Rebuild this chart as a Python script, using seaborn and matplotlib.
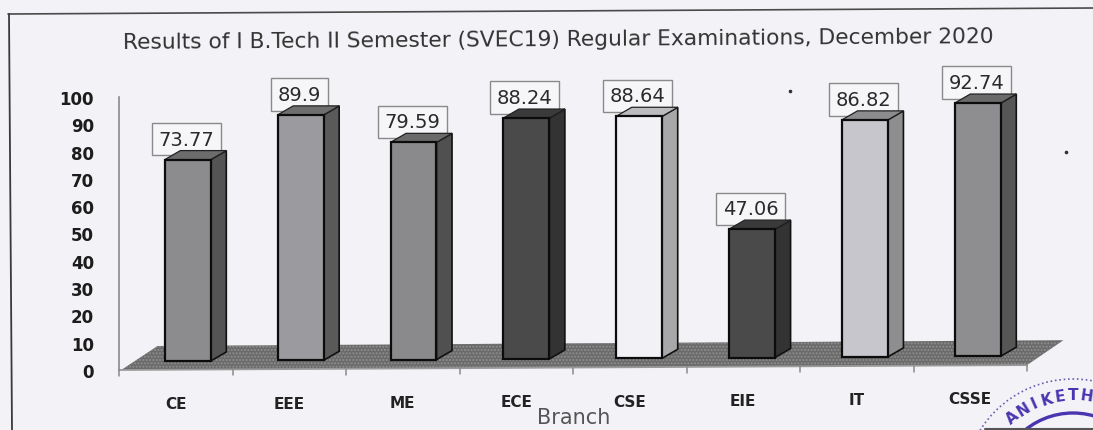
import numpy as np
import pandas as pd
import seaborn as sb
import matplotlib
matplotlib.use('Agg')
import matplotlib.pyplot as plt
from matplotlib.lines import Line2D
from matplotlib.patches import Arc
from matplotlib.transforms import ScaledTranslation

branches = ['CE', 'EEE', 'ME', 'ECE', 'CSE', 'EIE', 'IT', 'CSSE']
results = [73.77, 89.9, 79.59, 88.24, 88.64, 47.06, 86.82, 92.74]
value_labels = ['73.77', '89.9', '79.59', '88.24', '88.64', '47.06', '86.82', '92.74']
front_colors = ['#8c8c8e', '#9b9b9f', '#8a8a8c', '#4a4a4a', '#f2f2f6', '#4a4a4a', '#c6c6cc', '#8e8e90']
side_colors = ['#545454', '#5a5a5a', '#505050', '#333333', '#a8a8aa', '#333333', '#8e8e90', '#565656']
top_colors = ['#6c6c6c', '#6e6e6e', '#6a6a6a', '#3a3a3a', '#bcbcbe', '#3a3a3a', '#8c8c8e', '#6a6a6a']
title = 'Results of I B.Tech II Semester (SVEC19) Regular Examinations, December 2020'

W, H = 1093, 431
BG = '#f3f2f6'


def fx(px):
    return px / W


def fy(py):
    return 1 - py / H


sb.set_style('white')
fig = plt.figure(figsize=(W / 100, H / 100), dpi=100, facecolor=BG)
ax = fig.add_axes([fx(119), fy(371), (1027 - 119) / W, (371 - 98) / H], facecolor='none')

df = pd.DataFrame({'branch': branches, 'result': results})
sb.barplot(data=df, x='branch', y='result', hue='branch', palette=front_colors,
           legend=False, width=0.405, edgecolor='#0c0c0c', linewidth=1.6,
           saturation=1, ax=ax, zorder=5)
ax.set_xlim(-0.5, 7.5)
ax.set_ylim(0, 100)

# the scan is slightly tilted, bars sit on a floor that rises to the right
base0, tilt = 3.3, 0.25
dx, dy = 0.137, 3.3

# floor
floor_x = [-0.48, 7.5, 7.82, -0.16]
floor_y = [0, 1.8, 10.9, 8.8]
ax.fill(floor_x, floor_y, facecolor='#6a6a6a', edgecolor='#8f8f8f', hatch='.....',
        linewidth=0, zorder=1, clip_on=False)
ax.plot([-0.5, 7.5], [0, 1.8], color='#9a9a9a', lw=1.3, zorder=1.5, clip_on=False)
for i in range(9):
    b = -0.5 + i
    yb = (b + 0.5) * 0.225
    ax.plot([b, b], [yb, yb - 2.2], color='#8a8a8a', lw=1.1, zorder=1.5, clip_on=False)

for i, (patch, val) in enumerate(zip(ax.patches, results)):
    x0 = 0.106 + i * 0.9943 - patch.get_width() / 2
    y0 = base0 + tilt * i
    patch.set_x(x0)
    patch.set_y(y0)
    x1 = x0 + patch.get_width()
    y1 = y0 + val
    ax.fill([x1, x1 + dx, x1 + dx, x1], [y0, y0 + dy, y1 + dy, y1], facecolor=side_colors[i],
            edgecolor='#111111', lw=1.2, zorder=4, clip_on=False)
    ax.fill([x0, x0 + dx, x1 + dx, x1], [y1, y1 + dy, y1 + dy, y1], facecolor=top_colors[i],
            edgecolor='#222222', lw=0.9, zorder=4, clip_on=False)
    ax.text((x0 + x1) / 2 - 0.012, y1 + 7.5, value_labels[i], ha='center', va='center',
            fontsize=14, color='#2a2a2a', zorder=3, clip_on=False,
            bbox=dict(boxstyle='square,pad=0.34', facecolor='#f6f6f8', edgecolor='#8a8a8a', lw=1))

ax.set_yticks(np.arange(0, 101, 10))
ax.set_xlabel('')
ax.set_ylabel('')
ax.tick_params(axis='y', length=6, width=1, color='#8a8a8a', pad=12, labelsize=12, labelcolor='#1c1c1c')
ax.tick_params(axis='x', length=0, pad=19, labelsize=11, labelcolor='#222222')
for lab in ax.get_yticklabels():
    lab.set_fontweight('bold')
for i, lab in enumerate(ax.get_xticklabels()):
    lab.set_fontweight('bold')
    lab.set_transform(lab.get_transform() + ScaledTranslation(0, i * 0.7 / 100, fig.dpi_scale_trans))
for side in ['top', 'right', 'bottom']:
    ax.spines[side].set_visible(False)
ax.spines['left'].set_color('#8a8a8a')
ax.spines['left'].set_linewidth(1.2)

fig.text(fx(574), fy(418), 'Branch', ha='center', va='center', fontsize=15, color='#555555')
fig.text(fx(558), fy(40), title, ha='center', va='center', fontsize=15.7, family='DejaVu Sans',
         color='#333333', rotation=0.39, rotation_mode='anchor')

# outer frame of the scanned chart
fig.add_artist(Line2D([fx(8), fx(1093)], [fy(15), fy(9)], color='#4a4a4a', lw=1.2))
fig.add_artist(Line2D([fx(9), fx(12)], [fy(15), fy(431)], color='#3a3a3a', lw=1.3))
fig.add_artist(Line2D([fx(985), fx(1093)], [fy(430), fy(430)], color='#555555', lw=1.5))

# specks
for px, py in [(790, 92), (1066, 153)]:
    fig.add_artist(Line2D([fx(px)], [fy(py)], marker='o', ms=1.6, color='#333333', lw=0))

# stamp in the corner
scx, scy = 1073, 490
overlay = fig.add_axes([0, 0, 1, 1], facecolor='none')
overlay.set_xlim(0, W)
overlay.set_ylim(H, 0)
overlay.axis('off')
overlay.add_patch(Arc((scx, scy), 220, 220, theta1=180, theta2=360, color='#6a5fb0', lw=1.2, ls=':'))
overlay.add_patch(Arc((scx, scy), 152, 152, theta1=180, theta2=360, color='#4a34b0', lw=2.4))
stamp = 'ANIKETH'
for i, ch in enumerate(stamp):
    ang = np.deg2rad(130 - i * 8)
    overlay.text(scx + 94 * np.cos(ang), scy - 94 * np.sin(ang), ch, fontsize=11, fontweight='bold',
                 color='#4a34b0', ha='center', va='center', rotation=np.rad2deg(ang) - 90)

fig.savefig('out.png', dpi=100, facecolor=BG)
